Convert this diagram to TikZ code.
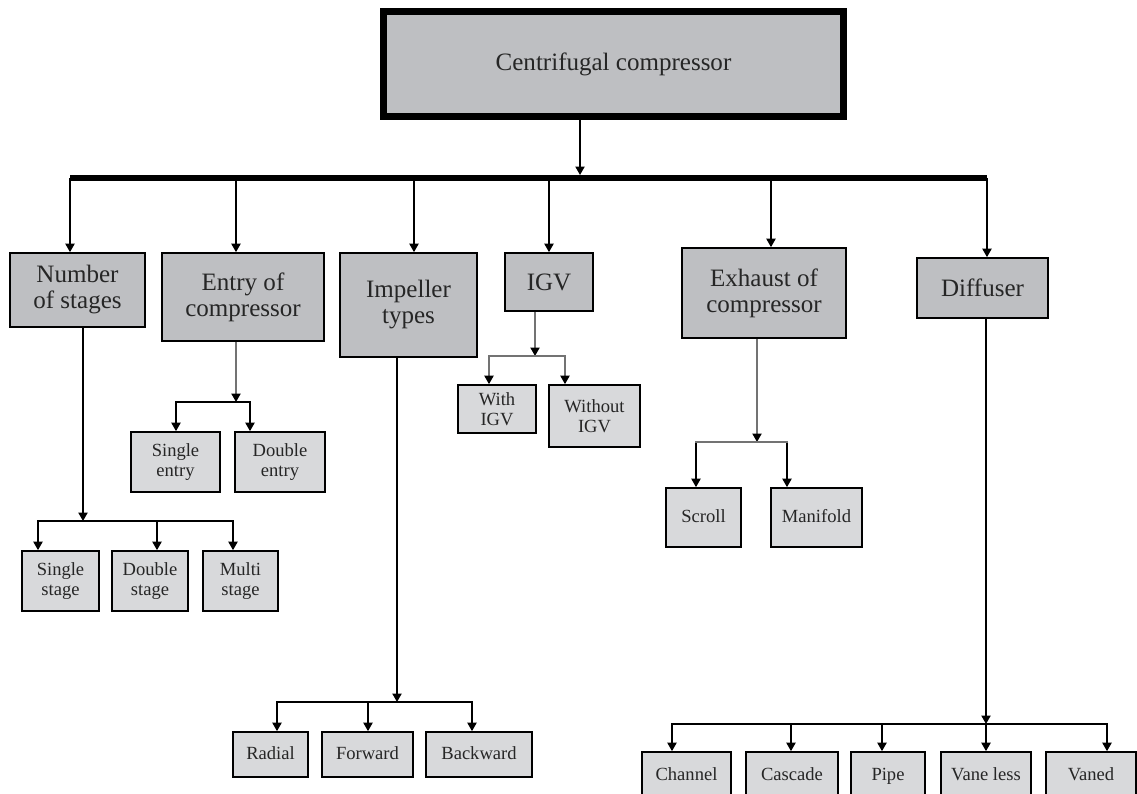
\documentclass[tikz,border=0pt]{standalone}
\usepackage{fontspec}
\setmainfont{Liberation Serif}
\usepackage{xcolor}
\usepackage{tikz}
\usetikzlibrary{arrows.meta, positioning, calc}

\definecolor{boxgray}{RGB}{190,191,194}
\definecolor{leafgray}{RGB}{216,217,219}

\begin{document}
\begin{tikzpicture}[
        x=0.025cm, y=-0.025cm,
        root/.style={rectangle, draw, line width=4.6pt, fill=boxgray, inner sep=0pt, align=center, text=black!85, font={\fontsize{17.8}{19}\selectfont}},
        category/.style={rectangle, draw, line width=1.2pt, fill=boxgray, inner sep=0pt, align=center, text=black!85, font={\fontsize{17.8}{18.5}\selectfont}},
        option/.style={rectangle, draw, line width=1.2pt, fill=leafgray, inner sep=0pt, align=center, text=black!85, font={\fontsize{13.2}{14.2}\selectfont}},
        oneline/.style={text height=1.5ex, text depth=0pt},
        boxsize/.style 2 args={minimum width=#1*0.025cm, minimum height=#2*0.025cm},
        arrow/.style={line width=1.1pt, -{Triangle[length=6pt, width=6.5pt, color=black]}},
        link/.style={line width=1.1pt, line cap=rect},
        faint/.style={draw=black!55},
        bus/.style={line width=4pt}
    ]
        \useasboundingbox (0,0) rectangle (1137,794);

        % Main box
        \node (comp) [root, boxsize={460}{105}] at (613.5,64) {Centrifugal compressor};

        % Categories
        \node (stages) [category, boxsize={135}{74}] at (77.5,290) {Number\\of stages};
        \node (entry) [category, boxsize={162}{88}] at (243,297) {Entry of\\compressor};
        \node (impeller) [category, boxsize={137}{104}] at (408.5,305) {Impeller\\types};
        \node (igv) [category, boxsize={88}{58}] at (549,282) {IGV};
        \node (exhaust) [category, boxsize={164}{90}] at (764,293) {Exhaust of\\compressor};
        \node (diffuser) [category, boxsize={131}{60}] at (982.5,288) {Diffuser};

        % Options
        \node (single) [option, boxsize={77}{60}] at (60.5,581) {Single\\stage};
        \node (double) [option, boxsize={76}{60}] at (150,581) {Double\\stage};
        \node (multi) [option, boxsize={75}{60}] at (240.5,581) {Multi\\stage};
        \node (sentry) [option, boxsize={89}{60}] at (175.5,462) {Single\\entry};
        \node (dentry) [option, boxsize={90}{60}] at (280,462) {Double\\entry};
        \node (radial) [option, oneline, boxsize={75}{45}] at (270.5,754.5) {Radial};
        \node (forward) [option, oneline, boxsize={91}{45}] at (367.5,754.5) {Forward};
        \node (backward) [option, oneline, boxsize={106}{45}] at (479,754.5) {Backward};
        \node (withigv) [option, boxsize={78}{48}] at (497,409) {With\\IGV};
        \node (woigv) [option, boxsize={91}{62}] at (594.5,416) {Without\\IGV};
        \node (scroll) [option, oneline, boxsize={75}{59}] at (703.5,517.5) {Scroll};
        \node (manifold) [option, oneline, boxsize={91}{59}] at (816.5,517.5) {Manifold};
        \node (channel) [option, oneline, boxsize={89}{48}] at (686.5,776) {Channel};
        \node (cascade) [option, oneline, boxsize={92}{48}] at (792,776) {Cascade};
        \node (pipe) [option, oneline, boxsize={74}{48}] at (888,776) {Pipe};
        \node (vaneless) [option, oneline, boxsize={90}{48}] at (986,776) {Vane less};
        \node (vaned) [option, oneline, boxsize={90}{48}] at (1091,776) {Vaned};

        % Main bus
        \coordinate (mainbus) at (580,175);
        \draw [arrow] (comp.south -| mainbus) -- (mainbus);
        \foreach \xx/\target in {70/stages, 236/entry, 414/impeller, 549/igv, 771/exhaust, 987/diffuser} {
            \coordinate (drop-\target) at (\xx,178);
            \draw [arrow] (drop-\target) -- (drop-\target |- \target.north);
        }
        \draw [bus] (drop-stages) -- (drop-diffuser);

        % Number of stages
        \coordinate (stem-stages) at (83,521);
        \draw [arrow] (stages.south -| stem-stages) -- (stem-stages);
        \foreach \xx/\target in {38/single, 157/double, 233/multi} {
            \coordinate (j-\target) at (\xx,521);
            \draw [arrow] (j-\target) -- (j-\target |- \target.north);
        }
        \draw [link] (j-single) -- (j-multi);

        % Entry of compressor
        \coordinate (stem-entry) at (236,402);
        \draw [arrow, faint] (entry.south -| stem-entry) -- (stem-entry);
        \foreach \xx/\target in {176/sentry, 250/dentry} {
            \coordinate (j-\target) at (\xx,402);
            \draw [arrow] (j-\target) -- (j-\target |- \target.north);
        }
        \draw [link] (j-sentry) -- (j-dentry);

        % Impeller types
        \coordinate (stem-impeller) at (397,702);
        \draw [arrow] (impeller.south -| stem-impeller) -- (stem-impeller);
        \foreach \xx/\target in {277/radial, 368/forward, 472/backward} {
            \coordinate (j-\target) at (\xx,702);
            \draw [arrow] (j-\target) -- (j-\target |- \target.north);
        }
        \draw [link] (j-radial) -- (j-backward);

        % IGV
        \coordinate (stem-igv) at (535,356);
        \draw [arrow, faint] (igv.south -| stem-igv) -- (stem-igv);
        \foreach \xx/\target in {489/withigv, 565/woigv} {
            \coordinate (j-\target) at (\xx,356);
            \draw [arrow, faint] (j-\target) -- (j-\target |- \target.north);
        }
        \draw [link, faint] (j-withigv) -- (j-woigv);

        % Exhaust of compressor
        \coordinate (stem-exhaust) at (757,442);
        \draw [arrow, faint] (exhaust.south -| stem-exhaust) -- (stem-exhaust);
        \foreach \xx/\target in {696/scroll, 787/manifold} {
            \coordinate (j-\target) at (\xx,442);
            \draw [arrow] (j-\target) -- (j-\target |- \target.north);
        }
        \draw [link, faint] (j-scroll) -- (j-manifold);

        % Diffuser
        \coordinate (stem-diffuser) at (986,724);
        \draw [arrow] (diffuser.south -| stem-diffuser) -- (stem-diffuser);
        \foreach \xx/\target in {672/channel, 791/cascade, 882/pipe, 986/vaneless, 1107/vaned} {
            \coordinate (j-\target) at (\xx,724);
            \draw [arrow] (j-\target) -- (j-\target |- \target.north);
        }
        \draw [link] (j-channel) -- (j-vaned);
    \end{tikzpicture}
\end{document}
